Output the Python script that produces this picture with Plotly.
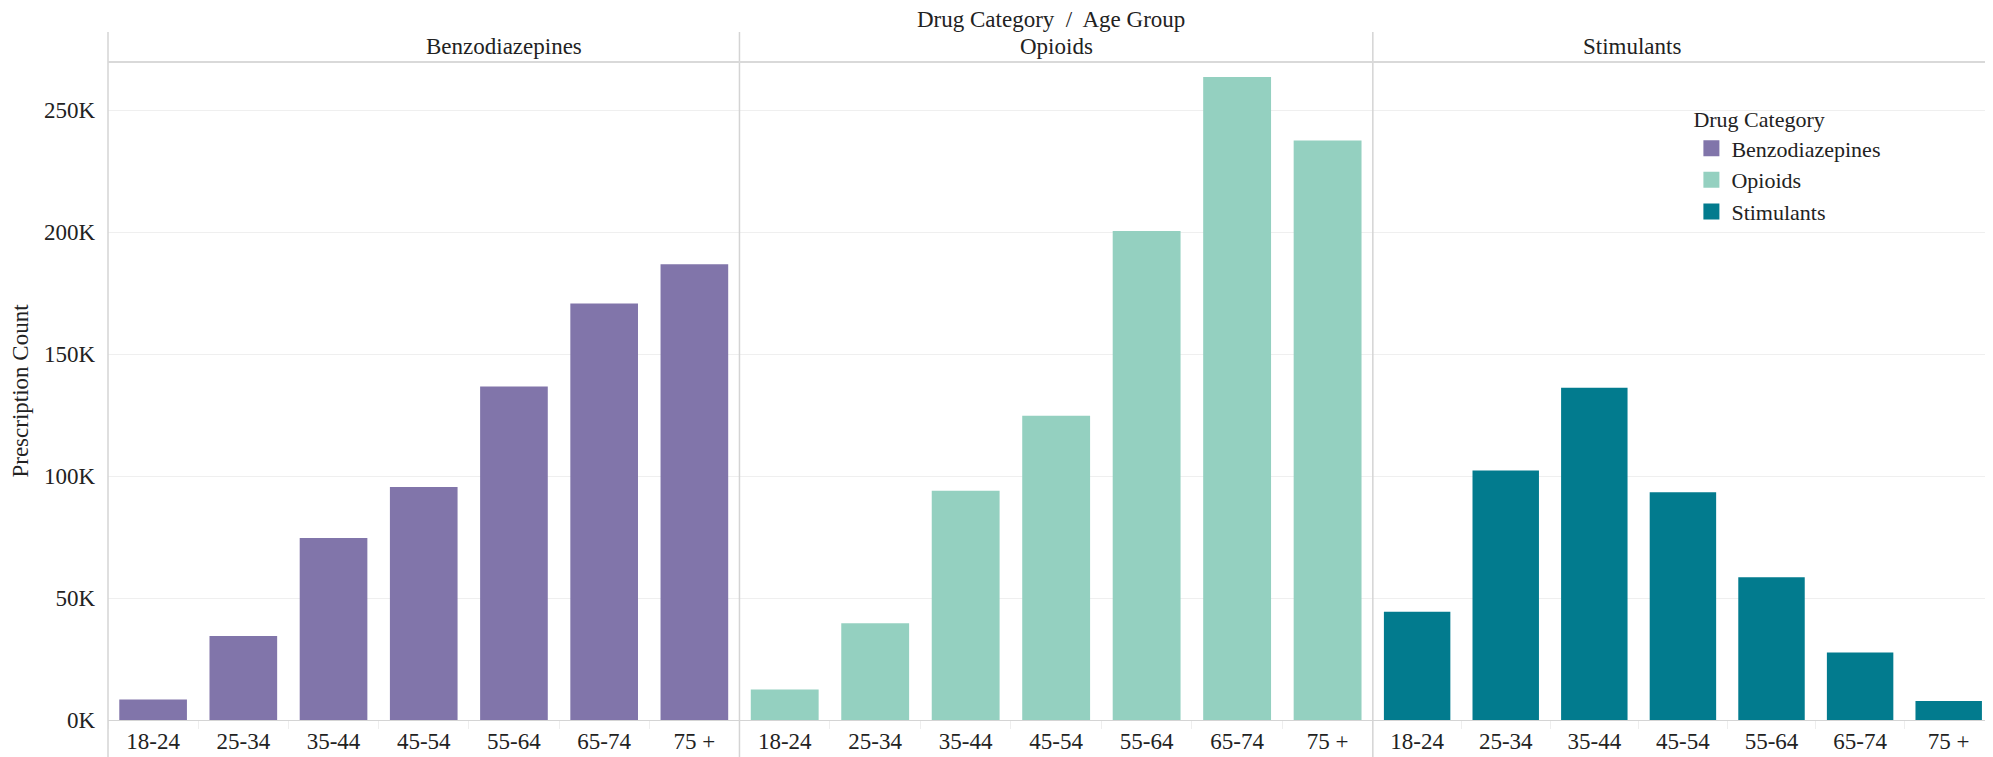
import plotly.graph_objects as go
from plotly.subplots import make_subplots

age_groups = ["18-24", "25-34", "35-44", "45-54", "55-64", "65-74", "75 +"]
categories = ["Benzodiazepines", "Opioids", "Stimulants"]
benzo_values = [8400, 34400, 74600, 95500, 136700, 170700, 186800]
opioid_values = [12500, 39700, 94000, 124700, 200400, 263600, 237500]
stim_values = [44400, 102300, 136200, 93400, 58500, 27700, 7800]
colors = ["#8175AA", "#94D0C0", "#027B8E"]
y_tickvals = [0, 50000, 100000, 150000, 200000, 250000]
y_ticktext = ["0K", "50K", "100K", "150K", "200K", "250K"]

FONT = "Georgia, 'Liberation Serif', serif"
FS = 23

fig = make_subplots(rows=1, cols=3, shared_yaxes=True, horizontal_spacing=0)
series = [benzo_values, opioid_values, stim_values]
for i, (cat, vals, col) in enumerate(zip(categories, series, colors)):
    fig.add_trace(go.Bar(x=age_groups, y=vals, name=cat, marker_color=col,
                         marker_line_width=0, showlegend=False), row=1, col=i + 1)
# legend entries with larger square swatches
for cat, col in zip(categories, colors):
    fig.add_trace(go.Scatter(x=[None], y=[None], mode="markers", name=cat,
                             marker=dict(symbol="square", size=19, color=col),
                             showlegend=True), row=1, col=3)

# page body has an 8px default margin; compensate so the plot lands where the reference has it
W, H = 1985, 749
ml, mr, mt, mb = 100, 0, 54, 37
PH = H - mt - mb
d1, d2 = 0.335, 0.671
fig.update_layout(
    width=W, height=H,
    margin=dict(l=ml, r=mr, t=mt, b=mb, autoexpand=False),
    plot_bgcolor="white", paper_bgcolor="white",
    bargap=0.25,
    font=dict(family=FONT, size=FS, color="#222"),
    xaxis=dict(domain=[0, d1]), xaxis2=dict(domain=[d1, d2]), xaxis3=dict(domain=[d2, 1]),
    legend=dict(title=dict(text="Drug Category", font=dict(size=22)),
                x=0.840, y=0.944, xanchor="left", yanchor="top",
                font=dict(size=22), tracegroupgap=0,
                bgcolor="rgba(0,0,0,0)", itemwidth=30),
)
for i in range(1, 4):
    fig.update_xaxes(row=1, col=i, showline=True, linecolor="#d4d4d4", linewidth=1,
                     ticks="outside", tickson="boundaries", ticklen=8, tickcolor="#eeeeee",
                     showgrid=False, tickfont=dict(size=FS, color="#222"), fixedrange=True,
                     automargin=False)
fig.update_yaxes(range=[0, 269700], tickvals=y_tickvals, ticktext=y_ticktext,
                 gridcolor="#efefef", gridwidth=1, zeroline=False, showline=False,
                 ticks="", ticklabelstandoff=12, tickfont=dict(size=FS, color="#222"),
                 automargin=False)
fig.update_yaxes(title=dict(text="Prescription Count", font=dict(size=FS), standoff=10), row=1, col=1)

top = (PH + 30) / PH
bottom = -(mb + 8) / PH
line_col = "#d4d4d4"
for xp in [0, d1, d2]:
    fig.add_shape(type="line", xref="paper", yref="paper", x0=xp, x1=xp, y0=bottom, y1=top,
                  line=dict(color=line_col, width=1.5))
fig.add_shape(type="line", xref="paper", yref="paper", x0=0, x1=1, y0=1, y1=1,
              line=dict(color="#d9d9d9", width=2))
centers = [d1 / 2, (d1 + d2) / 2, (d2 + 1) / 2]
for cx, cat in zip(centers, categories):
    fig.add_annotation(text=cat, xref="paper", yref="paper", x=cx, y=1.0,
                       yshift=1, yanchor="bottom", showarrow=False, font=dict(size=FS, color="#222"))
fig.add_annotation(text="Drug Category  /  Age Group", xref="paper", yref="paper", x=0.5,
                   y=top, yshift=-2, yanchor="bottom", showarrow=False,
                   font=dict(size=FS, color="#222"))

fig.write_html("out.html")
